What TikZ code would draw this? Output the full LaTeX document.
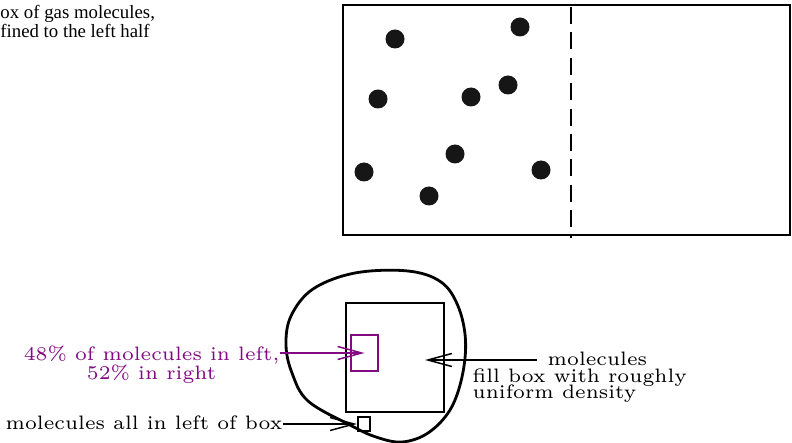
\documentclass[tikz,border=0pt]{standalone}
\usepackage{amsmath, amssymb}
\usepackage{xcolor}
\usepackage{fontspec}
\newfontfamily\timesfont{Liberation Serif}
\usepackage{tikz}
\usetikzlibrary{arrows.meta,positioning}
\definecolor{molpurple}{RGB}{130,10,130}
\definecolor{dotgray}{RGB}{22,22,22}
\newcommand\molfont[1]{\fontsize{6}{#1}\selectfont\lineskiplimit-10pt\relax}

\begin{document}
\begin{tikzpicture}[
        x=0.5pt, y=-0.5pt,
        wall/.style={line width=1.3pt},
        box/.style={rectangle, draw, line width=1.4pt, inner sep=0pt},
        txt/.style={font=\molfont{5.86}, scale=1.62, transform shape, inner sep=0pt},
        arr/.style={-{Straight Barb[length=12pt, width=6.5pt]}, line width=0.75pt}
    ]
        \useasboundingbox (0,0) rectangle (792,443);
        \node[anchor=north west, inner sep=0pt, align=left,
              font=\timesfont\fontsize{9.4}{8.5}\selectfont] (caption) at (0,5)
              {ox of gas molecules,\\fined to the left half};
        \draw[wall] (343,5) rectangle (790,235);
        \draw[wall, dash pattern=on 8.5pt off 4.2pt] (571,7) -- (571,238);
        \foreach \px/\py in {395/39, 520/27, 378/99, 471/97, 508/85, 455/154, 364/172, 541/170, 429/196}
            \fill[dotgray] (\px,\py) circle[radius=4.75pt];

        \draw[line width=1.4pt] plot[smooth cycle, tension=0.6] coordinates {
            (408,271) (441,282) (458,306) (465.5,340) (462,377) (450,410) (428,433)
            (402,442) (376,437) (350,425) (308,401) (292,373) (286,345)
            (291,316) (313,289) (355,273)};
        \node[box, minimum width=49pt, minimum height=54.5pt] (bigbox) at (395,357.5) {};
        \node[box, draw=molpurple, line width=1.2pt, minimum width=13.5pt, minimum height=18pt] (pbox) at (364.5,353) {};
        \node[box, line width=1.1pt, minimum width=6pt, minimum height=7pt] (sbox) at (364,424) {};
        \coordinate (fillpt) at (425,360);

        \node[txt, text=molpurple, align=center, anchor=north east] (pcttxt) at (280,345)
              {48\% of molecules in left,\\52\% in right};
        \node[txt, anchor=base east] (alltxt) at (283,429) {molecules all in left of box};
        \node[txt, inner xsep=3.1pt, anchor=base west] (moltxt) at (537,365) {molecules};
        \node[txt, font=\molfont{5.1}, align=left, anchor=north west] (filltxt) at (472,368)
              {fill box with roughly\\uniform density};

        \draw[arr, molpurple] (pbox.center -| pcttxt.east) -- (pbox.center);
        \draw[arr] (sbox.west -| alltxt.east) -- (sbox.west);
        \draw[arr] (fillpt -| moltxt.west) -- (fillpt);
    \end{tikzpicture}
\end{document}
